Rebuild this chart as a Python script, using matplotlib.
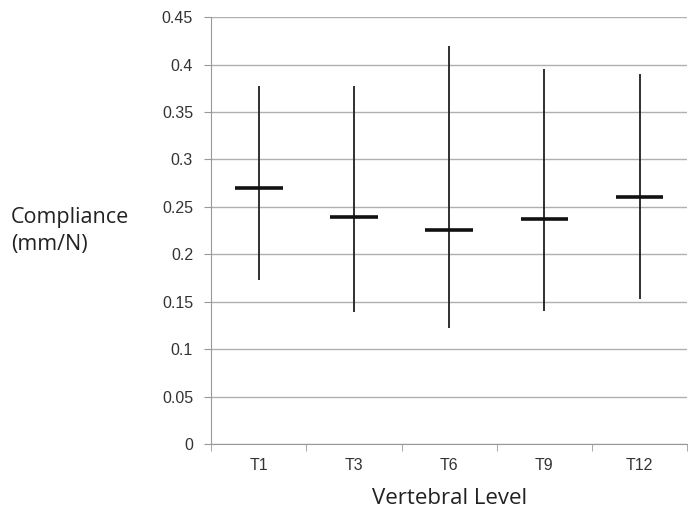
import numpy as np
import matplotlib
matplotlib.use("Agg")
import matplotlib.pyplot as plt

levels = ["T1", "T3", "T6", "T9", "T12"]
comp_max = [0.377, 0.377, 0.420, 0.395, 0.390]
comp_min = [0.173, 0.139, 0.122, 0.140, 0.153]
comp_mean = [0.270, 0.239, 0.226, 0.237, 0.260]

fig = plt.figure(figsize=(6.9, 5.17), dpi=100)
ax = fig.add_axes([0.306, 0.141, 0.690, 0.826])

x = np.arange(len(levels))
ax.vlines(x, comp_min, comp_max, color="#202020", lw=1.3, zorder=3)
ax.hlines(comp_mean, x - 0.25, x + 0.25, color="#111111", lw=2.6, zorder=4)

ax.set_xlim(-0.5, len(levels) - 0.5)
ax.set_ylim(0, 0.45)
ax.set_yticks(np.arange(0, 0.451, 0.05))
ax.set_yticklabels(["0", "0.05", "0.1", "0.15", "0.2", "0.25", "0.3", "0.35", "0.4", "0.45"])
ax.set_xticks(x)
ax.set_xticklabels(levels)
ax.set_xticks(np.arange(-0.5, len(levels)), minor=True)
ax.tick_params(axis="x", which="major", length=0, pad=10, labelsize=11.5, colors="#333333")
ax.tick_params(axis="x", which="minor", length=5, color="#999999")
ax.tick_params(axis="y", length=5, color="#999999", labelsize=11.5, labelcolor="#333333", pad=8)
for lab in ax.get_xticklabels() + ax.get_yticklabels():
    lab.set_family("Liberation Sans")

ax.grid(axis="y", color="#b0b0b0", lw=1)
ax.set_axisbelow(True)
for s in ["top", "right"]:
    ax.spines[s].set_visible(False)
for s in ["left", "bottom"]:
    ax.spines[s].set_color("#999999")

fig.text(0.016, 0.553, "Compliance\n(mm/N)", fontsize=15.5, family="Open Sans",
         color="#222222", va="center", ha="left", linespacing=1.35)
ax.set_xlabel("Vertebral Level", fontsize=16, family="Open Sans", color="#222222", labelpad=11)

fig.savefig("out.png", dpi=100)
